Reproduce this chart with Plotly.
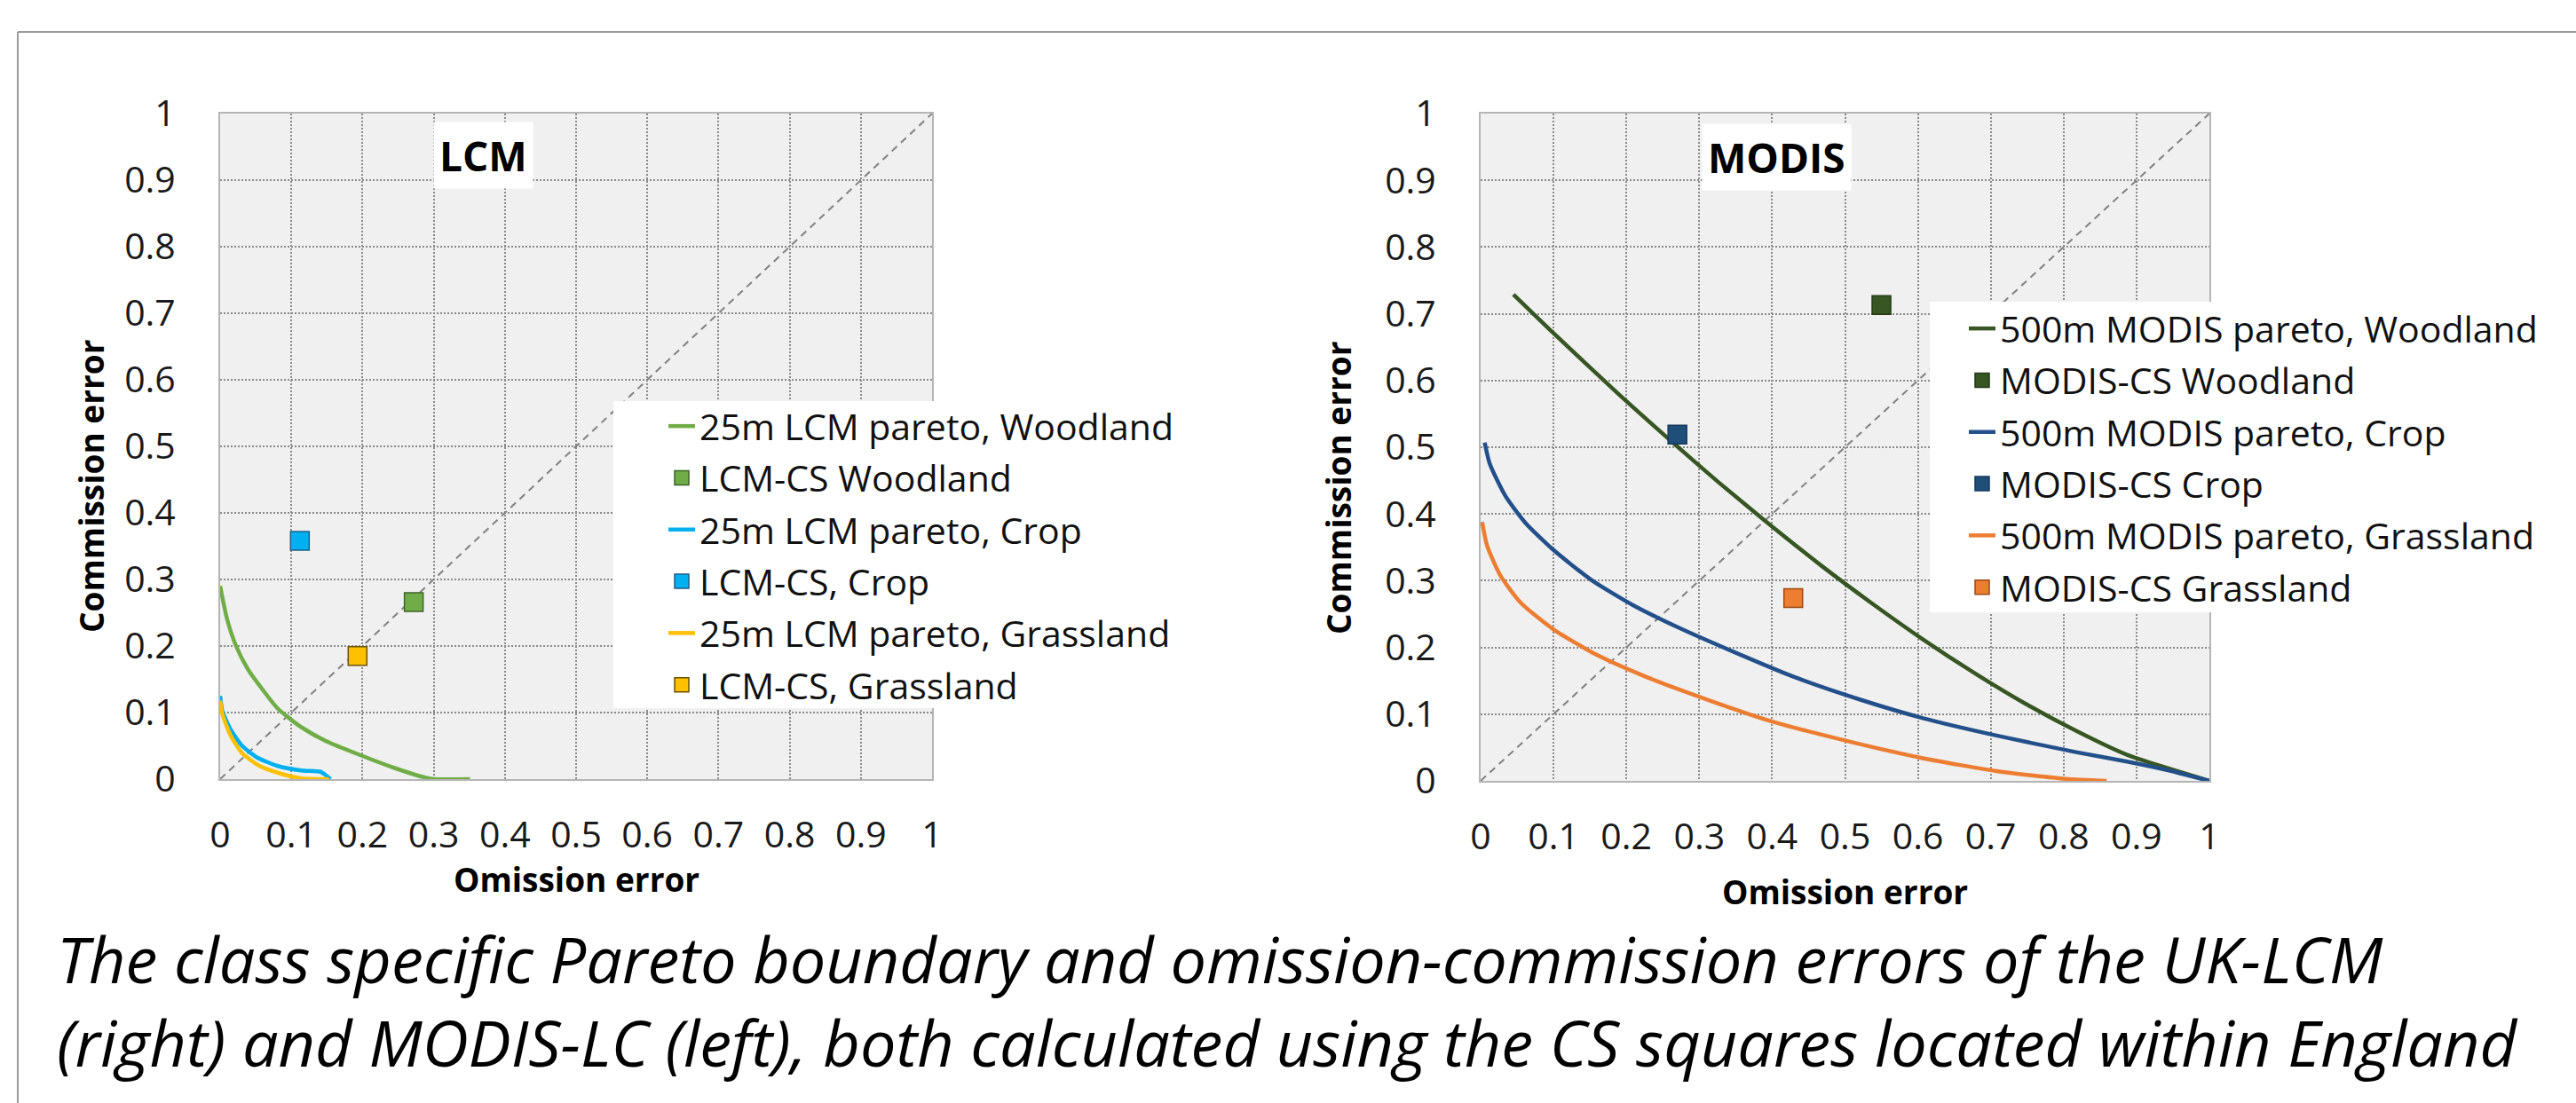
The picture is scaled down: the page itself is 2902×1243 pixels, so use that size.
import plotly.graph_objects as go

W, H = 2902, 1243

# ---------------- data ----------------
tick_vals = [0, 0.1, 0.2, 0.3, 0.4, 0.5, 0.6, 0.7, 0.8, 0.9, 1]
tick_text = ["0", "0.1", "0.2", "0.3", "0.4", "0.5", "0.6", "0.7", "0.8", "0.9", "1"]
diag = [0, 1]

# LCM panel
lcm_wood_x = [0.0, 0.0096, 0.022, 0.039, 0.060, 0.080, 0.097, 0.114, 0.147, 0.197, 0.247, 0.289, 0.301, 0.351]
lcm_wood_y = [0.290, 0.241, 0.201, 0.165, 0.134, 0.107, 0.0915, 0.078, 0.058, 0.036, 0.016, 0.002, 0.0, 0.0]
lcm_crop_x = [0.0, 0.003, 0.014, 0.030, 0.051, 0.080, 0.114, 0.141, 0.147, 0.155]
lcm_crop_y = [0.125, 0.103, 0.076, 0.051, 0.033, 0.020, 0.013, 0.011, 0.007, 0.0]
lcm_grass_x = [0.0, 0.003, 0.014, 0.030, 0.055, 0.089, 0.114, 0.153]
lcm_grass_y = [0.118, 0.098, 0.067, 0.040, 0.020, 0.007, 0.001, 0.0]
lcm_cs_wood = (0.272, 0.266)
lcm_cs_crop = (0.112, 0.358)
lcm_cs_grass = (0.193, 0.185)

# MODIS panel
mod_wood_x = [0.045, 0.100, 0.187, 0.270, 0.327, 0.390, 0.467, 0.537, 0.607, 0.677, 0.747, 0.817, 0.887, 1.0]
mod_wood_y = [0.729, 0.671, 0.582, 0.501, 0.447, 0.390, 0.323, 0.266, 0.212, 0.162, 0.116, 0.075, 0.039, 0.0]
mod_crop_x = [0.0056, 0.0126, 0.034, 0.062, 0.100, 0.152, 0.208, 0.271, 0.348, 0.432, 0.523, 0.607, 0.712, 0.817, 0.887, 0.943, 1.0]
mod_crop_y = [0.507, 0.475, 0.427, 0.386, 0.346, 0.301, 0.264, 0.230, 0.193, 0.155, 0.121, 0.094, 0.067, 0.043, 0.029, 0.016, 0.0]
mod_grass_x = [0.002, 0.009, 0.027, 0.055, 0.100, 0.159, 0.229, 0.313, 0.397, 0.502, 0.607, 0.712, 0.803, 0.859]
mod_grass_y = [0.388, 0.352, 0.308, 0.267, 0.227, 0.189, 0.155, 0.121, 0.090, 0.060, 0.034, 0.014, 0.003, 0.0]
mod_cs_wood = (0.550, 0.713)
mod_cs_crop = (0.270, 0.519)
mod_cs_grass = (0.429, 0.274)

caption_1 = "The class specific Pareto boundary and omission-commission errors of the UK-LCM"
caption_2 = "(right) and MODIS-LC (left), both calculated using the CS squares located within England"

# ---------------- styling ----------------
FONT = "Open Sans"
C_LW, C_LC, C_LG = "#70AD47", "#00B0F0", "#FFC000"
C_MW, C_MC, C_MG = "#375623", "#23508A", "#ED7D31"

fig = go.Figure()

def add_panel(xa, ya, legend, series):
    fig.add_trace(go.Scatter(x=diag, y=diag, mode="lines", xaxis=xa, yaxis=ya,
                             line=dict(color="#808080", width=2, dash="8px,6px"),
                             showlegend=False, hoverinfo="skip"))
    for i, (kind, name, x, y, color, edge) in enumerate(series):
        if kind == "line":
            fig.add_trace(go.Scatter(x=x, y=y, mode="lines", name=name, xaxis=xa, yaxis=ya,
                                     legend=legend, legendgroup=legend + str(i),
                                     line=dict(color=color, width=4.5, shape="spline", smoothing=0.6)))
        else:
            fig.add_trace(go.Scatter(x=[x], y=[y], mode="markers", name=name, xaxis=xa, yaxis=ya,
                                     legend=legend, legendgroup=legend + str(i),
                                     marker=dict(symbol="square", size=21, color=color,
                                                 line=dict(color=edge, width=1.5))))

add_panel("x", "y", "legend", [
    ("line", "25m LCM pareto, Woodland", lcm_wood_x, lcm_wood_y, C_LW, None),
    ("marker", "LCM-CS Woodland", lcm_cs_wood[0], lcm_cs_wood[1], C_LW, "#3b6424"),
    ("line", "25m LCM pareto, Crop", lcm_crop_x, lcm_crop_y, C_LC, None),
    ("marker", "LCM-CS, Crop", lcm_cs_crop[0], lcm_cs_crop[1], C_LC, "#1d5f86"),
    ("line", "25m LCM pareto, Grassland", lcm_grass_x, lcm_grass_y, C_LG, None),
    ("marker", "LCM-CS, Grassland", lcm_cs_grass[0], lcm_cs_grass[1], C_LG, "#6b5200"),
])
add_panel("x2", "y2", "legend2", [
    ("line", "500m MODIS pareto, Woodland", mod_wood_x, mod_wood_y, C_MW, None),
    ("marker", "MODIS-CS Woodland", mod_cs_wood[0], mod_cs_wood[1], C_MW, "#243a17"),
    ("line", "500m MODIS pareto, Crop", mod_crop_x, mod_crop_y, C_MC, None),
    ("marker", "MODIS-CS Crop", mod_cs_crop[0], mod_cs_crop[1], "#1F4E79", "#163a5c"),
    ("line", "500m MODIS pareto, Grassland", mod_grass_x, mod_grass_y, C_MG, None),
    ("marker", "MODIS-CS Grassland", mod_cs_grass[0], mod_cs_grass[1], C_MG, "#9c4a14"),
])

def px_x(p):
    return p / W

def px_y(p):
    return 1 - p / H

axis_common = dict(range=[0, 1], tickvals=tick_vals, ticktext=tick_text,
                   showgrid=True, gridcolor="#8a8a8a", gridwidth=1.5, griddash="2px,2px",
                   zeroline=False, showline=True, mirror=True, linecolor="#b5b5b5", linewidth=2,
                   ticks="", tickfont=dict(family=FONT, size=41, color="#1a1a1a"),
                   fixedrange=True)

LEG_FONT = dict(family=FONT, size=41, color="#111111")
fig.update_layout(
    width=W, height=H, autosize=False,
    margin=dict(l=0, r=0, t=0, b=0, autoexpand=False),
    paper_bgcolor="white", plot_bgcolor="#F0F0F0",
    xaxis=dict(domain=[px_x(248), px_x(1050)], anchor="y", ticklabelstandoff=26, **axis_common),
    yaxis=dict(domain=[px_y(878), px_y(128)], anchor="x", ticklabelstandoff=40, **axis_common),
    xaxis2=dict(domain=[px_x(1668), px_x(2489)], anchor="y2", ticklabelstandoff=26, **axis_common),
    yaxis2=dict(domain=[px_y(880), px_y(128)], anchor="x2", ticklabelstandoff=40, **axis_common),
    legend=dict(x=px_x(748), y=px_y(447), xanchor="left", yanchor="top", bgcolor="rgba(0,0,0,0)",
                font=LEG_FONT, tracegroupgap=2, traceorder="grouped"),
    legend2=dict(x=px_x(2213), y=px_y(337), xanchor="left", yanchor="top", bgcolor="rgba(0,0,0,0)",
                 font=LEG_FONT, tracegroupgap=2, traceorder="grouped"),
    showlegend=True,
)

# white legend backgrounds (above traces, below legends)
fig.add_shape(type="rect", xref="paper", yref="paper", layer="above",
              x0=px_x(691), x1=px_x(1332), y0=px_y(798), y1=px_y(452),
              fillcolor="white", line=dict(width=0))
fig.add_shape(type="rect", xref="paper", yref="paper", layer="above",
              x0=px_x(2174), x1=px_x(2872), y0=px_y(690), y1=px_y(340),
              fillcolor="white", line=dict(width=0))

ann = []
# panel titles
ann.append(dict(text="<b>LCM</b>", x=0.370, y=0.937, xref="x", yref="y", showarrow=False,
                font=dict(family=FONT, size=46, color="black"), bgcolor="white", borderpad=6,
                xanchor="center", yanchor="middle"))
ann.append(dict(text="<b>MODIS</b>", x=0.406, y=0.935, xref="x2", yref="y2", showarrow=False,
                font=dict(family=FONT, size=46, color="black"), bgcolor="white", borderpad=6,
                xanchor="center", yanchor="middle"))
# axis titles
for (xc, yc) in [(649, 990), (2078, 1004)]:
    ann.append(dict(text="<b>Omission error</b>", x=px_x(xc), y=px_y(yc), xref="paper", yref="paper",
                    showarrow=False, font=dict(family=FONT, size=37, color="black"),
                    xanchor="center", yanchor="middle"))
for (xc, yc) in [(102, 548), (1507, 550)]:
    ann.append(dict(text="<b>Commission error</b>", x=px_x(xc), y=px_y(yc), xref="paper", yref="paper",
                    showarrow=False, textangle=-90, font=dict(family=FONT, size=37, color="black"),
                    xanchor="center", yanchor="middle"))
# caption
for (txt, yc) in [(caption_1, 1080), (caption_2, 1174)]:
    ann.append(dict(text="<i>" + txt + "</i>", x=px_x(62), y=px_y(yc), xref="paper", yref="paper",
                    showarrow=False, font=dict(family=FONT, size=72, color="black"),
                    xanchor="left", yanchor="middle"))
fig.update_layout(annotations=ann)

# outer frame lines
fig.add_shape(type="line", xref="paper", yref="paper", x0=px_x(20), x1=1, y0=px_y(36), y1=px_y(36),
              line=dict(color="#9a9a9a", width=2))
fig.add_shape(type="line", xref="paper", yref="paper", x0=px_x(20), x1=px_x(20), y0=px_y(36), y1=0,
              line=dict(color="#9a9a9a", width=2))

fig.write_html("out.html", config={"displayModeBar": False})
